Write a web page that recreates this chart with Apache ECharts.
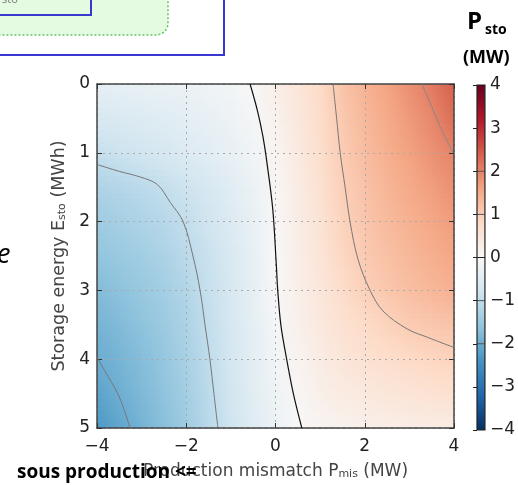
<!DOCTYPE html>
<html>
<head>
<meta charset="utf-8">
<script src="https://cdn.jsdelivr.net/npm/echarts@6/dist/echarts.min.js"></script>
<style>
html, body { margin: 0; padding: 0; background: #fff; }
#main { width: 518px; height: 485px; }
</style>
</head>
<body>
<div id="main"></div>
<script>
// grid nodes: production mismatch P_mis (MW) and storage energy E_sto (MWh)
var pMis = [-4, -3.5, -3, -2.5, -2, -1.5, -1, -0.5, 0, 0.5, 1, 1.5, 2, 2.5, 3, 3.5, 4];
var eSto = [0, 0.5, 1, 1.5, 2, 2.5, 3, 3.5, 4, 4.5, 5];

// P_sto (MW), one row per E_sto node
var pSto = [
    [-0.36, -0.33, -0.3, -0.27, -0.24, -0.18, -0.1, 0.03, 0.25, 0.5, 0.78, 1.15, 1.4, 1.6, 1.85, 2.1, 2.4],
    [-0.66, -0.6, -0.54, -0.48, -0.41, -0.32, -0.21, -0.07, 0.17, 0.45, 0.75, 1.08, 1.32, 1.52, 1.73, 1.95, 2.25],
    [-0.95, -0.87, -0.78, -0.68, -0.57, -0.45, -0.32, -0.14, 0.1, 0.38, 0.7, 1.03, 1.25, 1.45, 1.63, 1.82, 2.0],
    [-1.25, -1.17, -1.08, -0.97, -0.83, -0.66, -0.47, -0.24, 0.05, 0.33, 0.63, 0.97, 1.18, 1.36, 1.52, 1.68, 1.85],
    [-1.45, -1.35, -1.25, -1.13, -0.98, -0.79, -0.56, -0.3, 0.02, 0.3, 0.58, 0.92, 1.12, 1.28, 1.42, 1.56, 1.7],
    [-1.6, -1.5, -1.4, -1.27, -1.08, -0.88, -0.62, -0.33, 0.0, 0.27, 0.53, 0.85, 1.06, 1.2, 1.33, 1.45, 1.57],
    [-1.75, -1.64, -1.52, -1.38, -1.18, -0.93, -0.66, -0.35, -0.01, 0.24, 0.48, 0.74, 0.96, 1.1, 1.22, 1.33, 1.43],
    [-1.88, -1.76, -1.63, -1.47, -1.26, -0.97, -0.69, -0.38, -0.06, 0.2, 0.42, 0.62, 0.78, 0.92, 1.04, 1.1, 1.15],
    [-2.0, -1.87, -1.72, -1.55, -1.32, -1.02, -0.72, -0.42, -0.12, 0.12, 0.33, 0.5, 0.62, 0.72, 0.8, 0.87, 0.92],
    [-2.15, -1.96, -1.8, -1.62, -1.38, -1.06, -0.76, -0.46, -0.18, 0.05, 0.22, 0.34, 0.42, 0.49, 0.55, 0.6, 0.64],
    [-2.3, -2.1, -1.88, -1.68, -1.43, -1.1, -0.8, -0.5, -0.24, -0.03, 0.1, 0.17, 0.22, 0.26, 0.29, 0.31, 0.33]
];

// contour lines [P_mis, E_sto]
var contourM2 = [[-4, 3.97], [-3.8, 4.2], [-3.55, 4.48], [-3.4, 4.72], [-3.26, 5]];
var contourM1 = [[-4, 1.17], [-3.5, 1.27], [-3.04, 1.35], [-2.65, 1.46], [-2.36, 1.72], [-2.07, 2.0],
    [-1.85, 2.5], [-1.69, 3.0], [-1.58, 3.5], [-1.47, 4.0], [-1.38, 4.5], [-1.29, 5]];
var contour0 = [[-0.57, 0], [-0.4, 0.4], [-0.28, 0.77], [-0.18, 1.2], [-0.06, 1.83], [0.02, 2.65],
    [0.05, 3.0], [0.12, 3.5], [0.25, 4.0], [0.4, 4.5], [0.59, 5]];
var contour1 = [[1.29, 0], [1.37, 0.5], [1.45, 1.0], [1.56, 1.5], [1.67, 2.0], [1.85, 2.55], [2.12, 3.0],
    [2.41, 3.3], [2.95, 3.56], [3.4, 3.68], [4, 3.83]];
var contour2 = [[3.28, 0], [3.5, 0.33], [3.69, 0.62], [3.98, 1.0]];
var contourLevels = [-2, -1, 0, 1, 2];

var rdbu = ['#053061', '#2166ac', '#4393c3', '#92c5de', '#d1e5f0', '#f7f7f7',
    '#fddbc7', '#f4a582', '#d6604d', '#b2182b', '#67001f'];

function hexRgb(h) {
    return [parseInt(h.substr(1, 2), 16), parseInt(h.substr(3, 2), 16), parseInt(h.substr(5, 2), 16)];
}
var rdbuRgb = rdbu.map(hexRgb);

function cmap(v) {
    var t = (v + 4) / 8 * 10;
    if (t < 0) t = 0;
    if (t > 10) t = 10;
    var i = Math.min(9, Math.floor(t));
    var f = t - i;
    var a = rdbuRgb[i], b = rdbuRgb[i + 1];
    return 'rgb(' + Math.round(a[0] + (b[0] - a[0]) * f) + ',' +
        Math.round(a[1] + (b[1] - a[1]) * f) + ',' +
        Math.round(a[2] + (b[2] - a[2]) * f) + ')';
}

function minus(v) {
    return String(v).replace('-', '\u2212');
}

var cells = [];
for (var j = 0; j < eSto.length - 1; j++) {
    for (var i = 0; i < pMis.length - 1; i++) {
        cells.push([i, j]);
    }
}

function renderCell(params, api) {
    var i = api.value(0), j = api.value(1);
    var pa = api.coord([pMis[i], eSto[j]]);
    var pb = api.coord([pMis[i + 1], eSto[j + 1]]);
    var n = 6, h = (pb[1] - pa[1]) / n;
    var children = [];
    for (var k = 0; k < n; k++) {
        var t = (k + 0.5) / n;
        var vl = pSto[j][i] * (1 - t) + pSto[j + 1][i] * t;
        var vr = pSto[j][i + 1] * (1 - t) + pSto[j + 1][i + 1] * t;
        children.push({
            type: 'rect',
            shape: {x: pa[0], y: pa[1] + h * k, width: pb[0] - pa[0] + 0.8, height: h + 0.8},
            style: {
                fill: new echarts.graphic.LinearGradient(0, 0, 1, 0, [
                    {offset: 0, color: cmap(vl)}, {offset: 1, color: cmap(vr)}
                ])
            }
        });
    }
    return {type: 'group', children: children};
}

// colorbar: gradient box spanning the whole second grid
function renderColorbar(params, api) {
    var top = api.coord([0, 4]);
    var bottom = api.coord([1, -4]);
    var stops = [];
    for (var k = 0; k < rdbu.length; k++) {
        stops.push({offset: k / (rdbu.length - 1), color: rdbu[rdbu.length - 1 - k]});
    }
    var children = [{
        type: 'rect',
        shape: {x: top[0], y: top[1], width: bottom[0] - top[0], height: bottom[1] - top[1]},
        style: {fill: new echarts.graphic.LinearGradient(0, 0, 0, 1, stops)}
    }];
    contourLevels.forEach(function (lv) {
        var a = api.coord([0, lv]), b = api.coord([1, lv]);
        children.push({
            type: 'line',
            shape: {x1: a[0], y1: a[1], x2: b[0], y2: b[1]},
            style: {stroke: lv === 0 ? '#222' : '#555', lineWidth: 1}
        });
    });
    children.push({
        type: 'rect',
        shape: {x: top[0], y: top[1], width: bottom[0] - top[0], height: bottom[1] - top[1]},
        style: {fill: null, stroke: '#222', lineWidth: 1.2}
    });
    return {type: 'group', children: children};
}

function contourSeries(data, color, width) {
    return {
        type: 'line', xAxisIndex: 0, yAxisIndex: 0, data: data, showSymbol: false, smooth: 0.35,
        lineStyle: {color: color, width: width}, z: 4, silent: true, animation: false
    };
}

var labelFont = 'DejaVu Sans';
var frame = {color: '#444', width: 1.5};
var tickStyle = {color: '#333', width: 1};
var gridLine = {show: true, lineStyle: {color: '#aaa', type: [2, 4], width: 1}};

var myChart = echarts.init(document.getElementById('main'));

var option = {
    animation: false,
    grid: [
        {left: 97, top: 84, width: 357, height: 345},
        {left: 477, top: 85, right: 22, height: 345}
    ],
    xAxis: [
        {
            gridIndex: 0, type: 'value', min: -4, max: 4, interval: 2, position: 'bottom', z: 3,
            axisLine: {onZero: false, lineStyle: frame},
            axisTick: {inside: true, length: 5, lineStyle: tickStyle},
            axisLabel: {margin: 10, fontSize: 17, color: '#222', fontFamily: labelFont, formatter: minus},
            splitLine: gridLine,
            name: '{a|Production mismatch P}{s|mis}{a| (MW)}',
            nameLocation: 'middle', nameGap: 32,
            nameTextStyle: {
                rich: {
                    a: {fontSize: 17, color: '#444', fontFamily: labelFont, lineHeight: 20, verticalAlign: 'bottom'},
                    s: {fontSize: 11, color: '#444', fontFamily: labelFont, lineHeight: 11, verticalAlign: 'bottom'}
                }
            }
        },
        {
            gridIndex: 0, type: 'value', min: -4, max: 4, interval: 2, position: 'top', z: 3,
            axisLine: {onZero: false, lineStyle: frame},
            axisTick: {inside: true, length: 5, lineStyle: tickStyle},
            axisLabel: {show: false}, splitLine: {show: false}
        },
        {gridIndex: 1, type: 'value', min: 0, max: 1, show: false}
    ],
    yAxis: [
        {
            gridIndex: 0, type: 'value', min: 0, max: 5, interval: 1, inverse: true, position: 'left', z: 3,
            axisLine: {onZero: false, lineStyle: frame},
            axisTick: {inside: true, length: 5, lineStyle: tickStyle},
            axisLabel: {margin: 7, fontSize: 17, color: '#222', fontFamily: labelFont, formatter: minus},
            splitLine: gridLine,
            name: '{a|Storage energy E}{s|sto}{a| (MWh)}',
            nameLocation: 'middle', nameGap: 29,
            nameTextStyle: {
                rich: {
                    a: {fontSize: 17.5, color: '#444', fontFamily: labelFont, lineHeight: 20, verticalAlign: 'bottom'},
                    s: {fontSize: 11, color: '#444', fontFamily: labelFont, lineHeight: 11, verticalAlign: 'bottom'}
                }
            }
        },
        {
            gridIndex: 0, type: 'value', min: 0, max: 5, interval: 1, inverse: true, position: 'right', z: 3,
            axisLine: {onZero: false, lineStyle: frame},
            axisTick: {inside: true, length: 5, lineStyle: tickStyle},
            axisLabel: {show: false}, splitLine: {show: false}
        },
        {
            gridIndex: 1, type: 'value', min: -4, max: 4, interval: 1, position: 'right', z: 3,
            axisLine: {show: false},
            axisTick: {inside: true, length: 4, lineStyle: {color: '#222', width: 1}},
            axisLabel: {margin: 5, fontSize: 17, color: '#222', fontFamily: labelFont, formatter: minus},
            splitLine: {show: false}
        }
    ],
    series: [
        {
            type: 'custom', xAxisIndex: 0, yAxisIndex: 0, data: cells, renderItem: renderCell,
            clip: true, silent: true, z: 1
        },
        contourSeries(contourM2, '#777', 1),
        contourSeries(contourM1, '#777', 1),
        contourSeries(contour0, '#111', 1.2),
        contourSeries(contour1, '#777', 1),
        contourSeries(contour2, '#888', 1),
        {
            type: 'custom', xAxisIndex: 2, yAxisIndex: 2, data: [[0, 0]], renderItem: renderColorbar,
            silent: true, z: 1
        }
    ],
    graphic: [
        {type: 'rect', z: 100, shape: {x: -10, y: -10, width: 234, height: 65},
            style: {fill: '#fff', stroke: '#3838d0', lineWidth: 2}},
        {type: 'rect', z: 101, shape: {x: -20, y: -20, width: 188, height: 55, r: 12},
            style: {fill: '#e5fbe1', stroke: '#66c466', lineWidth: 1.5, lineDash: [2, 2]}},
        {type: 'rect', z: 102, shape: {x: -10, y: -10, width: 101, height: 25},
            style: {fill: '#e5fbe1', stroke: '#3838d0', lineWidth: 2}},
        {type: 'text', z: 103, style: {text: 'sto', x: 2, y: 0, fill: '#777', font: '11px "Open Sans"', verticalAlign: 'middle'}},
        {type: 'text', z: 103, style: {text: 'e', x: -3, y: 255, fill: '#000', font: 'italic 27px "Open Sans"', verticalAlign: 'middle'}},
        {type: 'text', z: 103, style: {text: 'P', x: 467, y: 22, fill: '#000', font: 'bold 24px "Open Sans"', verticalAlign: 'middle'}},
        {type: 'text', z: 103, style: {text: 'sto', x: 485, y: 30, fill: '#000', font: 'bold 14px "Open Sans"', verticalAlign: 'middle'}},
        {type: 'text', z: 103, style: {text: '(MW)', x: 463, y: 58, fill: '#000', font: 'bold 18px "Open Sans"', verticalAlign: 'middle'}},
        {type: 'text', z: 103, style: {text: 'sous production <=', x: 17, y: 473, fill: '#000', font: 'bold 19px "Open Sans"', verticalAlign: 'middle'}}
    ]
};

window.onresize = function () {
    myChart.resize();
};

myChart.setOption(option);
</script>
</body>
</html>
